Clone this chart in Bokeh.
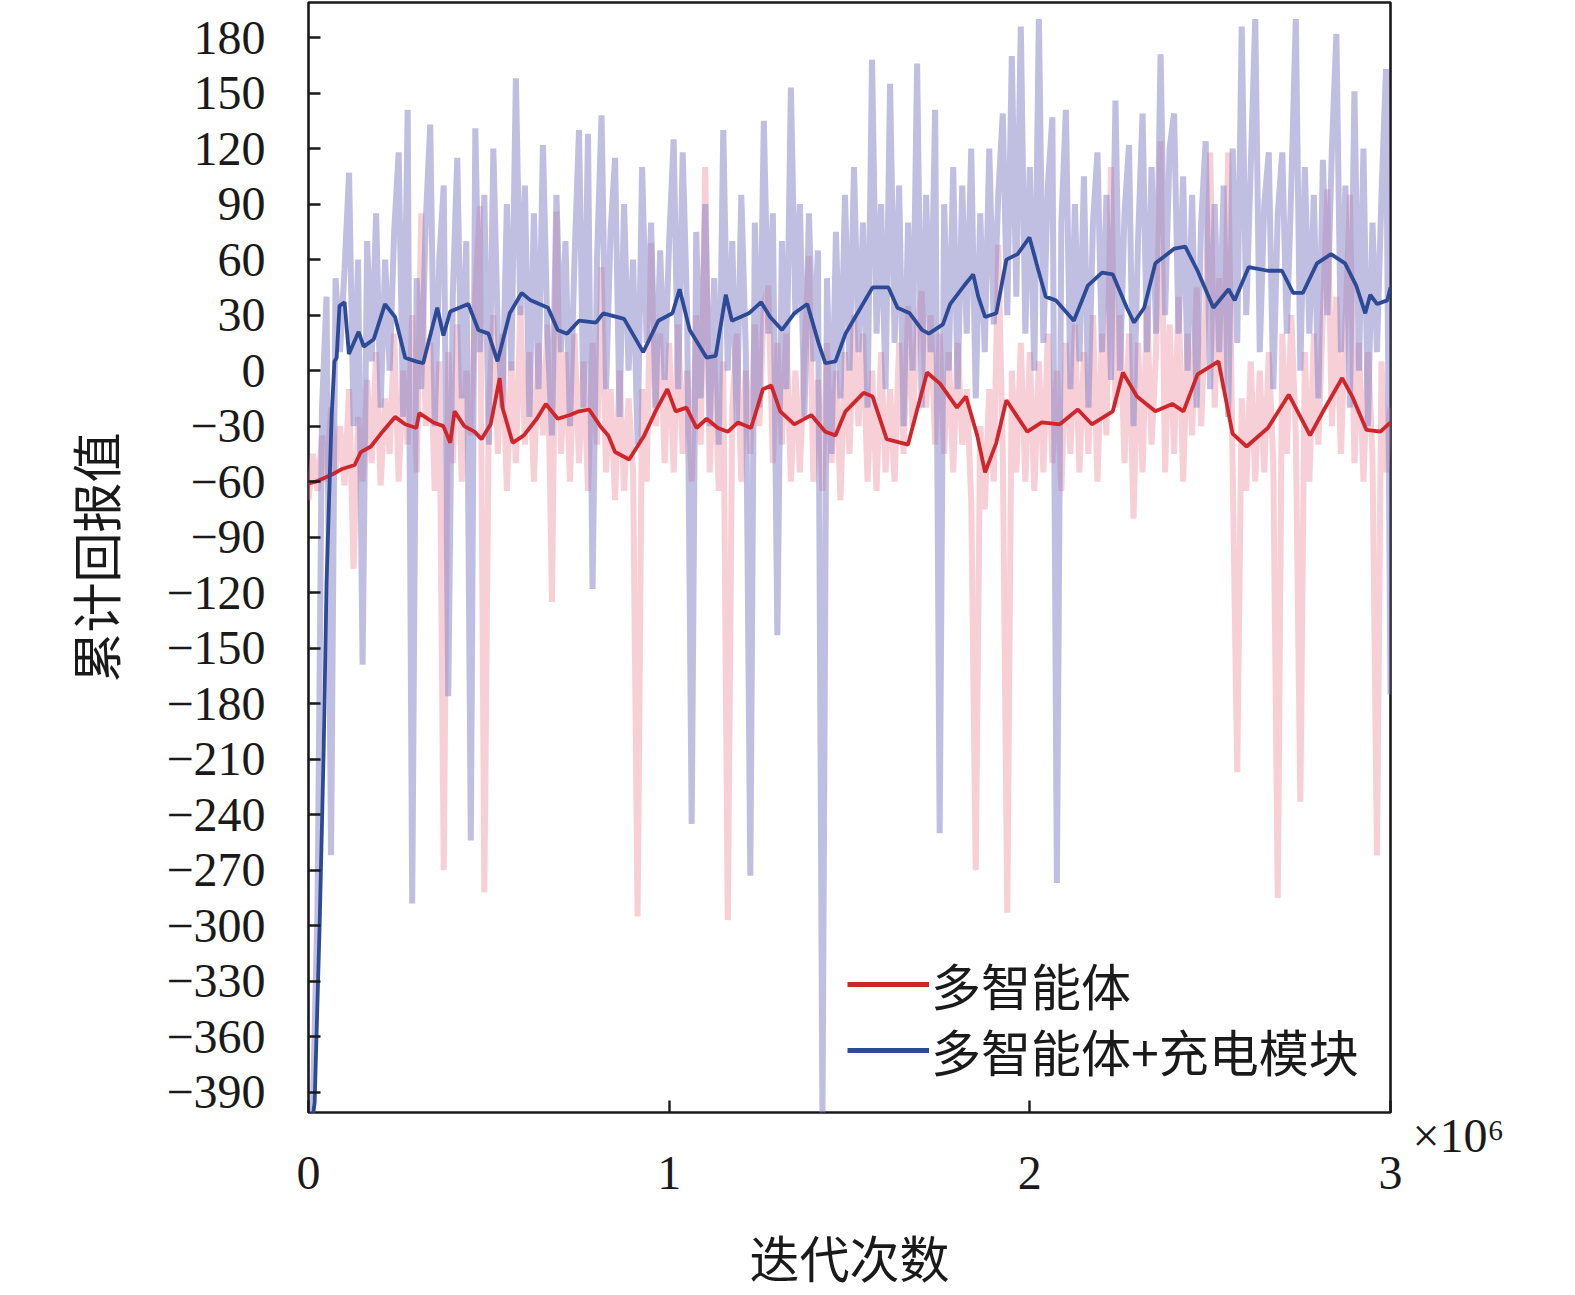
from bokeh.plotting import figure
from bokeh.models import FixedTicker, Legend, LegendItem, Range1d, LinearAxis
from bokeh.embed import file_html
from bokeh.resources import INLINE
import numpy as np

# ---------------- data ----------------
x_label = "迭代次数"
y_label = "累计回报值"
series_names = ["多智能体", "多智能体+充电模块"]
x_ticks = [0, 1, 2, 3]            # in units of 1e6 iterations
x_multiplier_text = "\n\u00d710\u2076"
y_ticks = [180, 150, 120, 90, 60, 30, 0, -30, -60, -90, -120, -150, -180,
           -210, -240, -270, -300, -330, -360, -390]
raw_step = 0.0125                  # 1e6 iterations between raw samples

red_raw = [
    -70, -45, -65, -35, -60, -20, -55, -30, -62, -10,
    -107, -25, -60, -5, -50, 10, -62, -15, -45, 20,
    -60, 0, -40, 30, -55, 85, -30, 15, -65, 5,
    -270, 10, -50, 25, -60, 0, -35, 40, 89, -282,
    -20, 30, -45, 20, -65, 5, -50, 35, -40, 10,
    -60, 15, -35, 25, -125, 86, -45, 10, -60, 20,
    -50, 5, -65, 15, -40, 56, -55, -10, -70, 0,
    -65, -15, -55, -295, -10, -60, 69, -30, 20, -50,
    15, -55, 25, -45, 0, -60, 30, -40, 110, -55,
    10, -65, 5, -297, -20, 20, -60, 0, -45, 25,
    -30, 35, 46, -50, 15, -40, 20, -60, 0, -55,
    10, 62, -60, -5, -65, 15, -50, 0, -70, 10,
    -45, 30, -30, 20, -60, 0, -65, 10, -55, -10,
    -60, 15, -45, 35, -30, 25, 43, -20, 30, -40,
    20, -45, 10, -55, 15, -40, -10, -70, -270, -30,
    -75, -10, -60, 68, -45, -293, 0, -55, 15, -60,
    10, -65, 5, -55, 20, -50, 0, -65, 15, -45,
    25, -55, 10, -45, 30, -60, 20, -35, 110, -20,
    30, -50, 20, -80, 15, -55, 35, -40, 10, 124,
    -55, 25, -45, 40, -60, 20, -35, 45, -30, 35,
    118, -20, 50, -10, 118, -55, -217, -15, -65, 5,
    -60, 0, -55, 10, -50, -285, 20, -45, 30, -35,
    -233, 10, -60, 20, -40, 30, 98, -30, 40, -45,
    25, 95, -50, 15, -60, 10, -45, -262, 5, -55, -20,
]

blue_raw = [
    -430, -395, -290, -20, 40, -262, 50, 10, 55, 107,
    -30, 60, -159, 70, 5, 85, -20, 60, 0, 75,
    118, -25, 141, -288, 50, -10, 80, 133, -30, 60,
    100, -176, 40, 115, -15, 70, -254, 131, 10, 95,
    -40, 120, 20, -20, 90, 0, 158, 30, 100, -25,
    85, -10, 122, 20, -35, 95, 10, 70, -30, 60,
    130, -20, 128, -118, 60, 138, -10, 75, 115, -25,
    90, 0, 60, -40, 110, 15, 80, -20, 65, -5,
    70, 125, -10, 118, 30, -245, 75, -15, 90, -30,
    50, -40, 130, 0, 70, -30, 95, 10, -273, 80,
    -20, 135, 20, 85, -143, 70, -10, 153, 30, 90,
    -25, 85, 5, 65, -405, 50, -45, 75, -15, 95,
    0, 110, 10, 80, -20, 168, 20, 90, -10, 155,
    15, 100, -30, 80, 0, 166, -20, 95, 10, 141,
    -250, 90, 0, 110, -10, 100, 20, 120, -15, 85,
    10, 120, 25, 95, 139, 30, 170, 40, 186, 20,
    110, 0, 190, 15, 100, 137, -277, 80, 141, -10,
    90, 5, 105, -20, 80, 118, 10, 95, -5, 146,
    0, 85, 122, -30, 70, 139, 10, 110, 20, 171,
    30, 120, 139, 20, 105, 0, 95, -20, 80, 124,
    -10, 90, 10, 100, -25, 120, 15, 186, 30, 110,
    190, 10, 90, 118, -10, 85, 118, 20, 100, 190,
    0, 110, 20, 95, -15, 114, 30, 120, 182, 10,
    100, -20, 151, 0, 120, -30, 80, 10, 95, 163, -175,
]

red_smooth_x = [
    0.000, 0.020, 0.067, 0.095, 0.128, 0.145, 0.173, 0.201, 0.240, 0.268,
    0.299, 0.307, 0.346, 0.374, 0.393, 0.405, 0.432, 0.460, 0.480, 0.505,
    0.530, 0.538, 0.566, 0.597, 0.633, 0.658, 0.691, 0.725, 0.750, 0.778,
    0.809, 0.831, 0.850, 0.889, 0.931, 0.962, 0.995, 1.018, 1.048, 1.076,
    1.104, 1.135, 1.163, 1.191, 1.227, 1.260, 1.283, 1.308, 1.347, 1.394,
    1.433, 1.461, 1.489, 1.539, 1.564, 1.603, 1.662, 1.715, 1.751, 1.798,
    1.823, 1.854, 1.876, 1.907, 1.935, 1.993, 2.033, 2.083, 2.133, 2.172,
    2.230, 2.258, 2.297, 2.348, 2.395, 2.426, 2.465, 2.523, 2.562, 2.601,
    2.660, 2.718, 2.777, 2.816, 2.866, 2.894, 2.933, 2.972, 3.000,
]
red_smooth_y = [
    -61, -60, -56, -53, -51, -44, -41, -34, -25, -29,
    -31, -23, -28, -30, -39, -22, -30, -33, -37, -29,
    -4, -20, -39, -35, -26, -18, -26, -24, -22, -21,
    -30, -35, -44, -48, -35, -22, -10, -22, -20, -31,
    -26, -31, -33, -28, -31, -10, -8, -22, -29, -24,
    -33, -35, -22, -12, -14, -37, -40, -1, -7, -20,
    -14, -35, -55, -39, -16, -33, -28, -29, -21, -29,
    -22, -1, -14, -22, -18, -22, -2, 5, -34, -41,
    -31, -13, -35, -21, -4, -14, -32, -33, -28,
]

blue_smooth_x = [
    0.000, 0.014, 0.017, 0.031, 0.042, 0.050, 0.064, 0.072, 0.078, 0.086,
    0.100, 0.112, 0.139, 0.153, 0.181, 0.212, 0.240, 0.268, 0.298, 0.318,
    0.357, 0.374, 0.393, 0.443, 0.471, 0.499, 0.524, 0.558, 0.591, 0.616,
    0.664, 0.691, 0.717, 0.750, 0.797, 0.817, 0.875, 0.928, 0.970, 1.009,
    1.029, 1.057, 1.104, 1.129, 1.157, 1.174, 1.221, 1.255, 1.280, 1.313,
    1.347, 1.383, 1.414, 1.433, 1.461, 1.489, 1.525, 1.564, 1.608, 1.633,
    1.667, 1.701, 1.720, 1.759, 1.779, 1.818, 1.843, 1.857, 1.876, 1.907,
    1.935, 1.966, 1.999, 2.024, 2.044, 2.072, 2.122, 2.161, 2.200, 2.230,
    2.269, 2.289, 2.317, 2.348, 2.401, 2.431, 2.465, 2.509, 2.551, 2.568,
    2.607, 2.660, 2.699, 2.730, 2.757, 2.796, 2.835, 2.874, 2.905, 2.930,
    2.944, 2.963, 2.991, 3.000,
]
blue_smooth_y = [
    -440, -400, -396, -299, -206, -115, -25, 5, 7, 35,
    37, 9, 21, 13, 17, 36, 29, 7, 5, 4,
    34, 19, 32, 36, 22, 20, 5, 31, 42, 38,
    34, 22, 20, 27, 26, 31, 28, 10, 27, 31,
    44, 22, 7, 8, 41, 27, 31, 37, 29, 22,
    31, 36, 15, 4, 5, 20, 32, 45, 45, 34,
    31, 22, 20, 25, 36, 46, 52, 40, 29, 31,
    60, 63, 72, 54, 40, 38, 27, 46, 53, 52,
    34, 26, 34, 58, 66, 67, 54, 34, 44, 38,
    56, 54, 54, 42, 42, 58, 63, 58, 46, 31,
    41, 36, 38, 45,
]

# ---------------- figure ----------------
M = 1e6
Y0, Y1 = -401, 199
MULT_TICK = -396
p = figure(width=1550, height=1294, output_backend="svg", toolbar_location=None,
           x_range=Range1d(0, 3 * M), y_range=Range1d(Y0, Y1),
           min_border_left=308, min_border_right=160, min_border_top=2,
           min_border_bottom=176)
p.background_fill_color = "white"
p.border_fill_color = "white"
p.grid.visible = False
p.outline_line_color = "#1a1a1a"
p.outline_line_width = 2.6
p.outline_line_alpha = 1.0

raw_x_red = np.arange(len(red_raw)) * raw_step * M
raw_x_blue = np.arange(len(blue_raw)) * raw_step * M

RED_RAW, BLUE_RAW = "#ec8d9d", "#8d89c9"
RED, BLUE = "#d0262b", "#2c4a96"

p.line(raw_x_red, red_raw, line_color=RED_RAW, line_alpha=0.42, line_width=6)
p.line(raw_x_blue, blue_raw, line_color=BLUE_RAW, line_alpha=0.55, line_width=6)
p.line(np.array(red_smooth_x) * M, red_smooth_y, line_color=RED, line_width=3.8)
p.line(np.array(blue_smooth_x) * M, blue_smooth_y, line_color=BLUE, line_width=3.8)

# legend-only renderers (single NaN point, nothing drawn in the plot) with thicker strokes
leg_red = p.line([np.nan], [np.nan], line_color=RED, line_width=5)
leg_blue = p.line([np.nan], [np.nan], line_color=BLUE, line_width=5)

# axes
for ax in (p.xaxis[0], p.yaxis[0]):
    ax.axis_line_color = None
    ax.major_tick_in = 12
    ax.major_tick_out = 0
    ax.minor_tick_line_color = None
    ax.major_tick_line_color = "#1a1a1a"
    ax.major_tick_line_width = 2.4
    ax.major_label_text_font = "Liberation Serif"
    ax.major_label_text_font_size = "48px"
    ax.major_label_text_color = "#1a1a1a"
    ax.axis_label_text_font = "Noto Sans CJK SC"
    ax.axis_label_text_font_size = "50px"
    ax.axis_label_text_font_style = "normal"
    ax.axis_label_text_color = "#1a1a1a"

p.xaxis.ticker = FixedTicker(ticks=[int(t * M) for t in x_ticks])
p.xaxis.major_label_overrides = {int(t * M): str(t) for t in x_ticks}
p.xaxis.major_label_standoff = 44
p.xaxis.axis_label = x_label
p.xaxis.axis_label_standoff = 28

p.yaxis.ticker = FixedTicker(ticks=y_ticks)
p.yaxis.major_label_overrides = {t: (("\u2212" + str(-t)) if t < 0 else str(t)) for t in y_ticks}
p.yaxis.major_label_standoff = 43
p.yaxis.axis_label = y_label
p.yaxis.axis_label_standoff = 33

# multiplier "×10^6" next to the lower-right corner via a label-only right axis
mult_axis = LinearAxis(ticker=FixedTicker(ticks=[MULT_TICK]),
                       major_label_overrides={MULT_TICK: x_multiplier_text},
                       axis_line_color=None, major_tick_line_color=None,
                       minor_tick_line_color=None, major_tick_in=0, major_tick_out=0,
                       major_label_standoff=22,
                       major_label_text_font="Liberation Serif",
                       major_label_text_font_size="48px",
                       major_label_text_color="#1a1a1a")
p.add_layout(mult_axis, "right")

# one legend per entry so the row spacing can match the reference
legend_style = dict(glyph_width=82, glyph_height=50,
                    label_text_font="Noto Sans CJK SC", label_text_font_size="50px",
                    label_text_color="#1a1a1a", label_standoff=2, spacing=0,
                    padding=0, margin=0, border_line_color=None,
                    background_fill_alpha=0)
p.add_layout(Legend(items=[LegendItem(label=series_names[0], renderers=[leg_red])],
                    location=(539, 92), **legend_style))
p.add_layout(Legend(items=[LegendItem(label=series_names[1], renderers=[leg_blue])],
                    location=(539, 26), **legend_style))

open("out.html", "w").write(file_html(p, INLINE))
